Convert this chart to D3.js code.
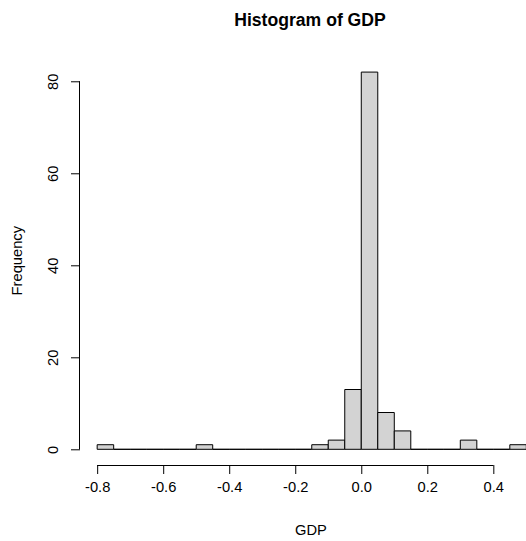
<!DOCTYPE html>
<html>
<head>
<meta charset="utf-8">
<script src="https://cdn.jsdelivr.net/npm/d3@7"></script>
<style>
  html, body { margin: 0; padding: 0; background: #fff; }
  svg { display: block; font-family: "Liberation Sans", Arial, sans-serif; }
</style>
</head>
<body>
<div id="chart"></div>
<script>
// histogram bins (width 0.05) and counts
const binStarts = [-0.80, -0.75, -0.70, -0.65, -0.60, -0.55, -0.50, -0.45, -0.40, -0.35, -0.30, -0.25,
                   -0.20, -0.15, -0.10, -0.05, 0.00, 0.05, 0.10, 0.15, 0.20, 0.25, 0.30, 0.35, 0.40, 0.45];
const counts    = [1, 0, 0, 0, 0, 0, 1, 0, 0, 0, 0, 0,
                   0, 1, 2, 13, 82, 8, 4, 0, 0, 0, 2, 0, 0, 1];
const binWidth = 0.05;
const xTicks = [-0.8, -0.6, -0.4, -0.2, 0.0, 0.2, 0.4];
const yTicks = [0, 20, 40, 60, 80];

const W = 526, H = 541;
const svg = d3.select("#chart").append("svg").attr("width", W).attr("height", H);

// R style: usr range extended by 4% on each side
const xLo = -0.8, xHi = 0.5, yLo = 0, yHi = 82;
const xPad = (xHi - xLo) * 0.04, yPad = (yHi - yLo) * 0.04;
const x = d3.scaleLinear().domain([xLo - xPad, xHi + xPad]).range([80, 543.5]);
const y = d3.scaleLinear().domain([yLo - yPad, yHi + yPad]).range([464.4, 57]);

const bars = binStarts.map((s, i) => ({ x0: s, x1: s + binWidth, n: counts[i] }));

// drawn as closed paths so empty bins still show as a line on the baseline, like R
svg.append("g").selectAll("path")
  .data(bars)
  .join("path")
  .attr("d", d => `M${x(d.x0)},${y(0)}H${x(d.x1)}V${y(d.n)}H${x(d.x0)}Z`)
  .attr("fill", "#d3d3d3")
  .attr("stroke", "#000")
  .attr("stroke-width", 1);

// x axis (below the plot, like R's axis at side 1)
const xAxis = svg.append("g")
  .attr("transform", `translate(0,465)`)
  .call(d3.axisBottom(x).tickValues(xTicks).tickSize(9).tickPadding(8).tickFormat(d3.format(".1f")));
xAxis.select(".domain").attr("d", `M${x(-0.8)},0.5H${x(0.4)}`);
xAxis.selectAll("text").style("font-size", "14.7px").attr("fill", "#000").text(d => d3.format(".1f")(d).replace("−", "-"));

// y axis with rotated labels
const yAxis = svg.append("g")
  .attr("transform", `translate(80,0)`)
  .call(d3.axisLeft(y).tickValues(yTicks).tickSize(9).tickFormat(d3.format("d")));
yAxis.select(".domain").attr("d", `M-0.5,${y(0)}V${y(80)}`);
yAxis.selectAll("text")
  .style("font-size", "14.7px")
  .attr("fill", "#000")
  .attr("x", null).attr("dy", null)
  .attr("text-anchor", "middle")
  .attr("transform", "translate(-22,0) rotate(-90)");

svg.selectAll(".tick line").attr("stroke", "#000");

svg.append("text")
  .attr("x", 310).attr("y", 26)
  .attr("text-anchor", "middle")
  .style("font-size", "17.6px").style("font-weight", "bold")
  .text("Histogram of GDP");

svg.append("text")
  .attr("x", 311).attr("y", 535)
  .attr("text-anchor", "middle")
  .style("font-size", "14.7px")
  .text("GDP");

svg.append("text")
  .attr("transform", `translate(22,${(y(0) + y(82)) / 2}) rotate(-90)`)
  .attr("text-anchor", "middle")
  .style("font-size", "14.7px")
  .text("Frequency");
</script>
</body>
</html>
